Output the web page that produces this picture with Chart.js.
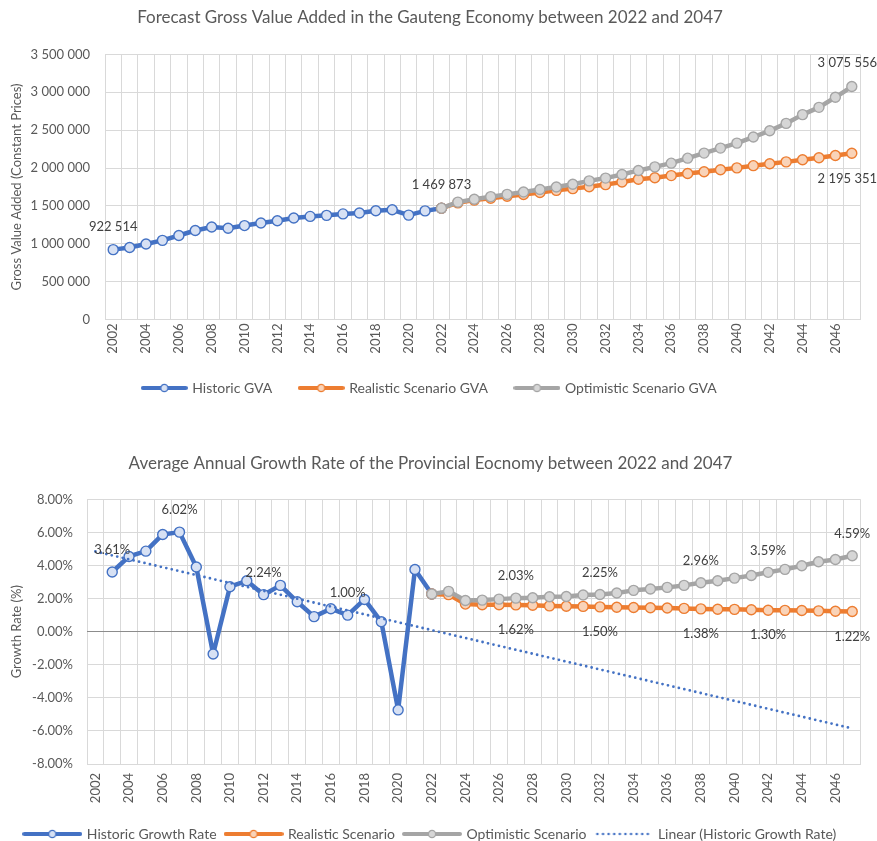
<!DOCTYPE html>
<html>
<head>
<meta charset="utf-8">
<title>Gauteng GVA forecast</title>
<script src="https://cdn.jsdelivr.net/npm/chart.js@4.4.0/dist/chart.umd.min.js"></script>
<style>
  html, body { margin: 0; padding: 0; background: #fff; overflow: hidden; }
  .box { position: relative; width: 877px; }
  #gvaBox { height: 420px; }
  #growthBox { height: 435px; }
</style>
</head>
<body>
<div class="box" id="gvaBox"><canvas id="gvaChart"></canvas></div>
<div class="box" id="growthBox"><canvas id="growthChart"></canvas></div>

<script>
// ---- data ----
const years = [
  '2002', '2003', '2004', '2005', '2006', '2007', '2008', '2009', '2010', '2011',
  '2012', '2013', '2014', '2015', '2016', '2017', '2018', '2019', '2020', '2021',
  '2022', '2023', '2024', '2025', '2026', '2027', '2028', '2029', '2030', '2031',
  '2032', '2033', '2034', '2035', '2036', '2037', '2038', '2039', '2040', '2041',
  '2042', '2043', '2044', '2045', '2046', '2047'
];

// GVA, constant prices (2002 - 2022)
const historicGva = [
  922514, 950000, 997000, 1045000, 1109000, 1175000, 1221000, 1205000, 1240000, 1275000,
  1303000, 1340000, 1361000, 1375000, 1394000, 1407000, 1435000, 1448000, 1378000, 1434000,
  1469873
];
// GVA scenarios (2022 - 2047)
const realisticGva = [
  1469873, 1540000, 1576000, 1600000, 1627000, 1650000, 1676000, 1705000, 1728000, 1753000,
  1781000, 1816000, 1852000, 1872000, 1900000, 1928000, 1950000, 1978000, 2002000, 2031000,
  2057000, 2081000, 2110000, 2135000, 2165000, 2195351
];
const optimisticGva = [
  1469873, 1550000, 1588000, 1622000, 1652000, 1684000, 1716000, 1750000, 1786000, 1830000,
  1867000, 1915000, 1968000, 2015000, 2064000, 2130000, 2197000, 2263000, 2329000, 2409000,
  2492000, 2589000, 2705000, 2801000, 2934000, 3075556
];

// growth rates in % (historic 2003 - 2022, scenarios 2022 - 2047)
const historicGrowth = [
  3.61, 4.55, 4.87, 5.88, 6.02, 3.91, -1.35, 2.72, 3.08, 2.24,
  2.80, 1.81, 0.91, 1.39, 1.00, 1.95, 0.60, -4.73, 3.76, 2.28
];
const realisticGrowth = [
  2.28, 2.24, 1.67, 1.63, 1.63, 1.62, 1.60, 1.56, 1.54, 1.53,
  1.50, 1.48, 1.46, 1.45, 1.43, 1.41, 1.38, 1.36, 1.35, 1.33,
  1.30, 1.29, 1.28, 1.26, 1.24, 1.22
];
const optimisticGrowth = [
  2.28, 2.44, 1.89, 1.91, 1.97, 2.03, 2.05, 2.11, 2.13, 2.22,
  2.25, 2.34, 2.50, 2.58, 2.68, 2.80, 2.96, 3.08, 3.24, 3.40,
  3.59, 3.77, 3.99, 4.23, 4.37, 4.59
];
// linear trend of historic growth, value at 2002 and at 2047
const trendEnds = [4.85, -5.85];

// y axis ticks
const gvaTicks = { min: 0, max: 3500000, step: 500000 };
const growthTicks = { min: -8, max: 8, step: 2 };

// ---- helpers ----
const BLUE = '#4472c4', ORANGE = '#ed7d31', GREY = '#a5a5a5';
const TEXT = '#595959';
const GRID = '#d9d9d9';

// place a run of values on the year axis starting at a given year
function onYears(values, firstYear) {
  const start = years.indexOf(firstYear);
  return years.map((y, i) => (i >= start && i - start < values.length) ? values[i - start] : null);
}

function spaced(v) {
  return String(Math.round(v)).replace(/\B(?=(\d{3})+(?!\d))/g, ' ');
}

// legend swatch: thick line with a marker in the middle, or a dotted line
function legendSwatch(color, fill, width, dotted) {
  const c = document.createElement('canvas');
  c.width = width;
  c.height = 12;
  const g = c.getContext('2d');
  g.strokeStyle = color;
  if (dotted) {
    g.lineWidth = 2.6;
    g.lineCap = 'round';
    g.setLineDash([0, 5.6]);
    g.beginPath();
    g.moveTo(2, 6);
    g.lineTo(width - 2, 6);
    g.stroke();
    return c;
  }
  g.lineWidth = 4;
  g.lineCap = 'round';
  g.beginPath();
  g.moveTo(2, 6);
  g.lineTo(width - 2, 6);
  g.stroke();
  g.beginPath();
  g.arc(width / 2, 6, 3.6, 0, Math.PI * 2);
  g.fillStyle = fill;
  g.fill();
  g.lineWidth = 1.3;
  g.stroke();
  return c;
}

// data labels on chosen points
const pointLabels = {
  id: 'pointLabels',
  afterDatasetsDraw(chart) {
    const ctx = chart.ctx;
    chart.data.datasets.forEach((ds, di) => {
      if (!ds.labelAt) return;
      const meta = chart.getDatasetMeta(di);
      ctx.save();
      ctx.font = '13px Lato';
      ctx.fillStyle = '#404040';
      ctx.textAlign = 'center';
      ctx.textBaseline = 'middle';
      ds.labelAt.forEach(i => {
        const pt = meta.data[i];
        const text = ds.labelFormat(ds.data[i]);
        const w = ctx.measureText(text).width;
        const x = Math.min(pt.x, chart.width - w / 2);
        const y = ds.labelSide === 'below' ? pt.y + ds.labelGap : pt.y - ds.labelGap;
        ctx.fillText(text, x, y);
      });
      ctx.restore();
    });
  }
};

function lineSet(label, data, color, fill, order) {
  return {
    label: label,
    data: data,
    borderColor: color,
    backgroundColor: color,
    borderWidth: 4.5,
    borderJoinStyle: 'round',
    borderCapStyle: 'round',
    pointRadius: 5,
    pointBorderWidth: 1.4,
    pointBackgroundColor: fill,
    pointBorderColor: color,
    tension: 0,
    order: order
  };
}

function legendOpts(swatches, width, gap) {
  return {
    position: 'bottom',
    labels: {
      usePointStyle: true,
      pointStyleWidth: width - 5,
      padding: gap,
      color: TEXT,
      font: { family: 'Lato', size: 14 },
      sort: (a, b) => a.datasetIndex - b.datasetIndex,
      generateLabels(chart) {
        return chart.data.datasets.map((ds, i) => ({
          text: ds.label,
          datasetIndex: i,
          pointStyle: swatches[i],
          fontColor: TEXT,
          lineWidth: 0,
          strokeStyle: 'transparent',
          fillStyle: 'transparent',
          hidden: false
        }));
      }
    }
  };
}

const evenYearTick = function (value, index) {
  return index % 2 === 0 ? this.getLabelForValue(value) : '';
};

Chart.defaults.font.family = 'Lato';
Chart.defaults.color = TEXT;
Chart.defaults.animation = false;

// ---- chart 1: GVA ----
const gvaData = {
  labels: years,
  datasets: [
    Object.assign(lineSet('Historic GVA', onYears(historicGva, '2002'), BLUE, '#d7e1f4', 3), {
      labelAt: [0, 20], labelSide: 'above', labelGap: 23, labelFormat: spaced
    }),
    Object.assign(lineSet('Realistic Scenario GVA', onYears(realisticGva, '2022'), ORANGE, '#f9d3b8', 2), {
      labelAt: [45], labelSide: 'below', labelGap: 26, labelFormat: spaced
    }),
    Object.assign(lineSet('Optimistic Scenario GVA', onYears(optimisticGva, '2022'), GREY, '#d6d6d6', 1), {
      labelAt: [45], labelSide: 'above', labelGap: 24, labelFormat: spaced
    })
  ]
};

new Chart(document.getElementById('gvaChart'), {
  type: 'line',
  data: gvaData,
  plugins: [pointLabels],
  options: {
    responsive: true,
    maintainAspectRatio: false,
    layout: { padding: { left: 0, right: 17, top: 0, bottom: 15 } },
    plugins: {
      title: {
        display: true,
        text: 'Forecast Gross Value Added in the Gauteng Economy between 2022 and 2047',
        color: TEXT,
        font: { family: 'Lato', size: 17, weight: 'normal' },
        padding: { top: 7, bottom: 27 }
      },
      legend: legendOpts([
        legendSwatch(BLUE, '#d7e1f4', 47),
        legendSwatch(ORANGE, '#f9d3b8', 47),
        legendSwatch(GREY, '#d6d6d6', 47)
      ], 47, 28),
      tooltip: { enabled: false }
    },
    scales: {
      x: {
        offset: true,
        grid: { offset: true, color: GRID, drawTicks: false },
        border: { color: GRID },
        ticks: {
          autoSkip: false, maxRotation: 90, minRotation: 90, padding: 4,
          font: { size: 13 }, color: TEXT, callback: evenYearTick
        },
        afterFit: s => { s.height = 33.5; }
      },
      y: {
        min: gvaTicks.min,
        max: gvaTicks.max,
        grid: { color: GRID, drawTicks: false },
        border: { display: false },
        ticks: { stepSize: gvaTicks.step, padding: 15, font: { size: 13 }, color: TEXT, callback: v => spaced(v) },
        title: {
          display: true, text: 'Gross Value Added (Constant Prices)',
          color: TEXT, font: { size: 13 }, padding: { top: 9.5, bottom: 0 }
        },
        afterFit: s => { s.width = 105; }
      }
    }
  }
});

// ---- chart 2: growth rates ----
const pct = v => v.toFixed(2) + '%';
const trendData = years.map((y, i) => i === 0 ? trendEnds[0] : (i === years.length - 1 ? trendEnds[1] : null));

const growthData = {
  labels: years,
  datasets: [
    Object.assign(lineSet('Historic Growth Rate', onYears(historicGrowth, '2003'), BLUE, '#d7e1f4', 3), {
      labelAt: [1, 5, 10, 15], labelSide: 'above', labelGap: 22, labelFormat: pct
    }),
    Object.assign(lineSet('Realistic Scenario', onYears(realisticGrowth, '2022'), ORANGE, '#f9d3b8', 2), {
      labelAt: [25, 30, 36, 40, 45], labelSide: 'below', labelGap: 25, labelFormat: pct
    }),
    Object.assign(lineSet('Optimistic Scenario', onYears(optimisticGrowth, '2022'), GREY, '#d6d6d6', 1), {
      labelAt: [25, 30, 36, 40, 45], labelSide: 'above', labelGap: 22, labelFormat: pct
    }),
    {
      label: 'Linear (Historic Growth Rate)',
      data: trendData,
      spanGaps: true,
      borderColor: BLUE,
      borderWidth: 2.8,
      borderDash: [0, 5.6],
      borderCapStyle: 'round',
      pointRadius: 0,
      order: 0
    }
  ]
};

new Chart(document.getElementById('growthChart'), {
  type: 'line',
  data: growthData,
  plugins: [pointLabels],
  options: {
    responsive: true,
    maintainAspectRatio: false,
    layout: { padding: { left: 0, right: 16, top: 0, bottom: 4 } },
    plugins: {
      title: {
        display: true,
        text: 'Average Annual Growth Rate of the Provincial Eocnomy between 2022 and 2047',
        color: TEXT,
        font: { family: 'Lato', size: 17, weight: 'normal' },
        padding: { top: 33, bottom: 26 }
      },
      legend: legendOpts([
        legendSwatch(BLUE, '#d7e1f4', 60),
        legendSwatch(ORANGE, '#f9d3b8', 60),
        legendSwatch(GREY, '#d6d6d6', 60),
        legendSwatch(BLUE, null, 56, true)
      ], 60, 9.5),
      tooltip: { enabled: false }
    },
    scales: {
      x: {
        offset: true,
        grid: { offset: true, color: GRID, drawTicks: false },
        border: { color: GRID },
        ticks: {
          autoSkip: false, maxRotation: 90, minRotation: 90, padding: 9,
          font: { size: 13 }, color: TEXT, callback: evenYearTick
        },
        afterFit: s => { s.height = 53.5; }
      },
      y: {
        min: growthTicks.min,
        max: growthTicks.max,
        grid: {
          drawTicks: false,
          color: ctx => ctx.tick && ctx.tick.value === 0 ? '#8c8c8c' : GRID
        },
        border: { display: false },
        ticks: { stepSize: growthTicks.step, padding: 14, font: { size: 13 }, color: TEXT, callback: v => pct(v) },
        title: {
          display: true, text: 'Growth Rate (%)',
          color: TEXT, font: { size: 13 }, padding: { top: 9.5, bottom: 0 }
        },
        afterFit: s => { s.width = 87; }
      }
    }
  }
});
</script>
</body>
</html>
